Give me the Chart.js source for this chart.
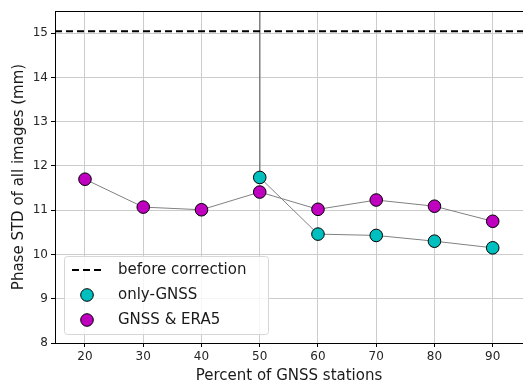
<!DOCTYPE html>
<html><head><meta charset="utf-8">
<script src="https://cdn.jsdelivr.net/npm/chart.js@4/dist/chart.umd.min.js"></script>
<style>html,body{margin:0;padding:0;background:#fff}</style>
</head><body>
<canvas id="c" width="523" height="385"></canvas>
<script>
const percents = [20, 30, 40, 50, 60, 70, 80, 90];
const era5Values = [11.70, 11.07, 11.01, 11.41, 11.02, 11.23, 11.09, 10.75];
const gnssPercents = [50, 50, 60, 70, 80, 90];
const gnssValues = [40.0, 11.74, 10.46, 10.43, 10.30, 10.15];
const beforeCorrection = 15.04;
const xTicks = [20, 30, 40, 50, 60, 70, 80, 90];
const yTicks = [8, 9, 10, 11, 12, 13, 14, 15];
const xRange = [14.85, 95.2];
const yRange = [8, 15.5];

const FONT = "'DejaVu Sans', sans-serif";

const framePlugin = {
  id: 'frame',
  afterDraw(chart) {
    const {ctx, chartArea: a} = chart;
    ctx.save();
    ctx.strokeStyle = '#000';
    ctx.lineWidth = 1;
    ctx.beginPath();
    ctx.moveTo(Math.round(a.left), Math.round(a.top) + 0.5);
    ctx.lineTo(chart.width, Math.round(a.top) + 0.5);
    ctx.stroke();
    // legend
    const lx = 64, ly = 256, lw = 204, lh = 78;
    ctx.fillStyle = 'rgba(255,255,255,0.8)';
    ctx.strokeStyle = '#d6d6d6';
    ctx.beginPath();
    if (ctx.roundRect) ctx.roundRect(lx + 0.5, ly + 0.5, lw, lh, 3); else ctx.rect(lx + 0.5, ly + 0.5, lw, lh);
    ctx.fill(); ctx.stroke();
    const ds = chart.data.datasets;
    ctx.font = '15px ' + FONT;
    ctx.textBaseline = 'middle';
    ctx.textAlign = 'left';
    ctx.strokeStyle = '#000'; ctx.lineWidth = 2; ctx.setLineDash([7, 4]);
    ctx.beginPath(); ctx.moveTo(72, 270); ctx.lineTo(103, 270); ctx.stroke();
    ctx.setLineDash([]);
    ctx.fillStyle = '#1a1a1a';
    ctx.fillText(ds[0].label, 118, 270);
    const rows = [[ds[1], 295], [ds[2], 320]];
    rows.forEach(([d, y]) => {
      ctx.beginPath(); ctx.arc(87, y, 6.3, 0, Math.PI * 2);
      ctx.fillStyle = d.pointBackgroundColor; ctx.fill();
      ctx.lineWidth = 1; ctx.strokeStyle = '#000'; ctx.stroke();
      ctx.fillStyle = '#1a1a1a';
      ctx.fillText(d.label, 118, y);
    });
    ctx.restore();
  }
};

new Chart(document.getElementById('c'), {
  type: 'line',
  data: {
    datasets: [
      {
        label: 'before correction',
        data: xRange.map(x => ({x: x, y: beforeCorrection})),
        borderColor: '#000', borderWidth: 2, borderDash: [7, 4],
        pointRadius: 0, order: 0
      },
      {
        label: 'only-GNSS',
        data: gnssPercents.map((x, i) => ({x: x, y: gnssValues[i]})),
        borderColor: '#808080', borderWidth: 1,
        pointRadius: gnssValues.map((v, i) => i === 0 ? 0 : 6.3),
        pointBackgroundColor: '#00bfbf', pointBorderColor: '#000', pointBorderWidth: 1,
        order: 1
      },
      {
        label: 'GNSS & ERA5',
        data: percents.map((x, i) => ({x: x, y: era5Values[i]})),
        borderColor: '#808080', borderWidth: 1,
        pointRadius: 6.3,
        pointBackgroundColor: '#bf00bf', pointBorderColor: '#000', pointBorderWidth: 1,
        order: 2
      }
    ]
  },
  options: {
    responsive: false,
    animation: false,
    layout: {autoPadding: false, padding: {top: 11, right: 0, left: 0, bottom: 0}},
    plugins: {legend: {display: false}, tooltip: {enabled: false}},
    scales: {
      x: {
        type: 'linear', min: xRange[0], max: xRange[1],
        afterBuildTicks: s => { s.ticks = xTicks.map(v => ({value: v})); },
        afterFit: s => { s.height = 42; s.paddingLeft = 0; s.paddingRight = 0; },
        ticks: {color: '#262626', font: {family: FONT, size: 12}, padding: 3},
        grid: {color: '#cccccc', lineWidth: 1, tickLength: 4, tickColor: '#000'},
        border: {color: '#000', width: 1},
        title: {display: true, text: 'Percent of GNSS stations', color: '#1a1a1a', font: {family: FONT, size: 15}, padding: {top: 0, bottom: 0}}
      },
      y: {
        type: 'linear', min: yRange[0], max: yRange[1],
        afterBuildTicks: s => { s.ticks = yTicks.map(v => ({value: v})); },
        afterFit: s => { s.width = 55; s.paddingTop = 0; s.paddingBottom = 0; },
        ticks: {color: '#262626', font: {family: FONT, size: 12}, padding: 3},
        grid: {color: '#cccccc', lineWidth: 1, tickLength: 4, tickColor: '#000'},
        border: {color: '#000', width: 1},
        title: {display: true, text: 'Phase STD of all images (mm)', color: '#1a1a1a', font: {family: FONT, size: 15}, padding: {top: 10, bottom: 0}}
      }
    }
  },
  plugins: [framePlugin]
});
</script>
</body></html>
